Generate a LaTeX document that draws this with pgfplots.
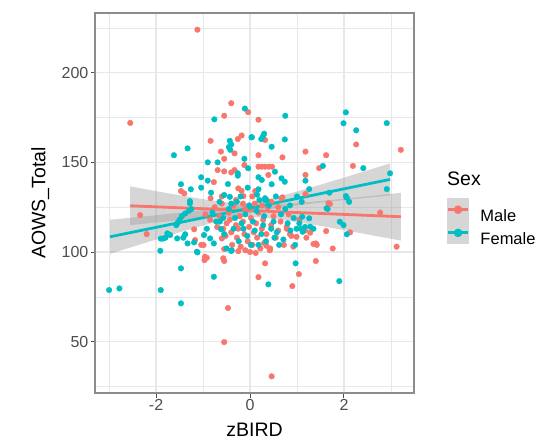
\documentclass[border=0pt]{standalone}
\usepackage{pgfplots}
\usepackage{pgfplotstable}
\pgfplotsset{compat=1.18}
\usepackage{fontspec}
\setmainfont{Liberation Sans}
\definecolor{malec}{RGB}{248,118,109}
\definecolor{femc}{RGB}{0,191,196}
\definecolor{bandc}{RGB}{153,153,153}
\definecolor{keyfill}{RGB}{214,214,214}
\definecolor{gridc}{RGB}{232,232,232}
\definecolor{borderc}{RGB}{140,140,140}
\definecolor{tickc}{RGB}{77,77,77}

\pgfplotstableread{
x y
-1.12 224
-2.55 172
-0.40 183
-0.04 178
-0.55 176
-0.84 162
-0.26 163
-0.18 165
-0.62 156
-0.33 155
-0.55 152
-0.12 148.5
-0.69 145.7
-0.55 145
-0.40 144.4
-0.33 145.7
-0.77 139
-1.47 134
-1.40 132.7
-0.25 135.5
-0.18 134.2
-0.14 131.2
-0.84 130
0.18 173.8
2.26 160
3.21 157
0.32 162.5
0.18 154
0.69 152.8
1.18 156
1.62 154
0.18 147.6
0.25 147.6
0.32 147.6
0.40 147.6
0.47 147.6
0.39 143
1.18 143
1.47 146.8
2.19 148
0.11 134
0.69 130.5
1.18 132.4
-2.34 120.6
-2.20 110
-1.04 104
-1.19 112.7
-0.92 96.8
-0.96 96.5
-0.97 95.5
-0.60 107.6
-0.55 101.7
-0.55 95
0.67 130
1.67 127.2
2.77 122
2.13 111
1.62 111.7
3.12 103
1.76 102
1.40 95
1.35 104.5
1.40 104.8
1.42 104
0.32 93.7
0.18 86
0.90 81
1.04 87.7
-0.47 68.8
-0.55 49.8
0.46 30.7
1.28 110.8
1.70 126.8
-1.17 106.7
-0.95 121
-0.85 118
-0.75 125
-0.70 114
-0.65 120
-0.60 127
-0.57 113
-0.52 109
-0.50 116
-0.45 122
-0.43 118
-0.40 111
-0.38 104
-0.35 126
-0.30 115
-0.28 108
-0.25 113
-0.22 120
-0.20 103
-0.15 117
-0.12 110
-0.10 124
-0.05 106
-0.02 114
0.02 119
0.05 104
0.08 111
0.10 127
0.13 116
0.15 108
0.18 122
0.22 102
0.25 113
0.28 118
0.30 105
0.35 110
0.38 125
0.42 101
0.45 115
0.50 120
0.55 108
0.60 112
0.65 117
0.72 104
0.78 114
0.82 121
0.88 109
0.92 103
0.99 108.5
1.05 118
1.17 112
1.20 108
-0.57 96.5
-0.25 100.5
-0.10 101
0.00 100
0.12 99.5
0.35 103.5
0.43 102
-0.99 103.9
-0.96 97.4
0.78 113
0.85 110
-0.60 131
-0.30 129
0.05 131
0.45 128
0.60 125
-0.15 127
0.25 126
}\maletab

\pgfplotstableread{
x y
-0.11 180
-0.76 174
-0.43 162
-0.40 160
-0.45 158.5
-0.42 157
0.04 164
-1.62 154
-1.33 157.8
-0.90 150
-0.69 150
-0.12 152
-0.04 146.7
-0.26 143.9
-0.26 142.6
-1.04 141.7
-0.90 139.8
-0.47 137.9
-1.47 137.8
-1.26 135
-1.04 135.9
-0.83 133.1
-0.55 131.8
-0.43 130.8
-0.05 135.9
0.75 176
2.04 177.9
1.99 171.8
2.91 171.9
2.26 167.9
0.03 164
0.27 164.3
0.30 166
0.24 163
0.74 162.8
0.46 158.7
0.53 144.8
0.18 141.7
0.25 140.2
0.67 141.1
0.74 139.2
0.46 137.8
1.55 148
2.41 146.8
2.98 143.9
1.18 139.8
1.26 135.1
0.18 135
0.32 130
1.69 133.1
2.04 131.2
2.91 135.1
-1.90 107.5
-1.85 107.5
-1.80 108
-1.91 100.7
-1.76 110.4
-1.70 109.5
-1.55 107.6
-1.47 90.9
-3.00 78.8
-2.78 79.7
-1.90 78.8
-1.47 71.4
-1.42 108
-1.38 109.9
-1.57 115
-1.54 116.3
-1.50 118
-1.45 120
-1.38 121.5
-1.30 123
-1.25 124
-1.33 104.8
-1.19 105.4
-1.12 99.8
-0.98 109.5
-0.77 104.8
-0.77 86.2
-0.62 112.8
-0.40 100.6
0.32 129
1.63 124.4
1.65 124
2.06 130.3
2.11 128
1.91 116.9
1.99 115
2.06 109.9
0.39 82
0.97 93.7
1.90 83.8
1.26 118.8
1.28 114.1
1.11 119.7
1.05 116
1.12 111.3
-1.28 127.2
-1.28 128.4
-1.13 100.2
-0.92 113
-0.85 107.6
-0.80 122
-0.72 117
-0.64 117
-0.57 119
-0.55 110
-0.50 102
-0.45 124
-0.39 101
-0.35 113
-0.32 119
-0.28 128
-0.24 106
-0.18 116
-0.14 113
-0.10 121
-0.06 109
-0.02 126
0.02 104
0.06 117
0.10 112
0.14 123
0.18 104
0.20 129
0.24 110
0.28 115
0.30 120
0.34 106
0.40 126
0.45 113
0.50 117
0.52 108
0.57 111
0.62 104
0.66 121
0.71 107
0.75 124
0.80 116
0.86 112
0.93 119
0.96 104
0.99 113
1.08 113
1.17 114
1.35 113
-0.65 128
-0.20 131
0.15 132
0.35 129
0.55 131
-0.40 127
0.85 126
1.00 131
1.10 128
}\femtab

\begin{document}
\begin{tikzpicture}
\useasboundingbox (0,0) rectangle (536pt,442pt);
\begin{axis}[
  at={(95pt,49pt)}, anchor=south west,
  scale only axis, width=319pt, height=380pt,
  xmin=-3.30, xmax=3.49, ymin=21.4, ymax=233.3,
  xtick={-2,0,2}, ytick={50,100,150,200},
  minor xtick={-3,-1,1,3}, minor ytick={25,75,125,175,225},
  grid=both,
  major grid style={color=gridc, line width=1.2pt},
  minor grid style={color=gridc, line width=0.7pt},
  axis line style={color=borderc, line width=1.1pt},
  tick align=outside, major tick length=4.5pt, minor tick length=0pt,
  tick style={color=tickc, line width=1pt},
  xtick pos=bottom, ytick pos=left,
  /pgf/number format/assume math mode=true,
  ticklabel style={font=\fontsize{16}{18}\selectfont, text=tickc, inner sep=2pt},
  xlabel={zBIRD}, ylabel={AOWS\_Total},
  label style={font=\fontsize{19.5}{22}\selectfont},
  xlabel style={at={(axis description cs:0.5,-0.097)}, anchor=center},
  ylabel style={at={(axis description cs:-0.172,0.5)}, anchor=center},
  legend style={at={(axis description cs:1.1025,0.5124)}, anchor=north west,
    draw=none, fill=none, inner sep=0pt, outer sep=0pt, row sep=0pt,
    nodes={inner sep=0pt, outer sep=0pt, font=\fontsize{16.5}{18}\selectfont, text depth=0pt},
    /tikz/every odd column/.style={column sep=11pt}},
  legend cell align=left,
]
\addplot[only marks, color=malec, mark=*, mark size=2.8pt, forget plot] table[x=x,y=y] {\maletab};
\addplot[only marks, color=femc, mark=*, mark size=2.8pt, forget plot] table[x=x,y=y] {\femtab};
% confidence bands
\addplot[draw=none, fill=bandc, fill opacity=0.4, forget plot] coordinates {
(-2.55,136.61) (-2,133.97) (-1.5,131.65) (-1,129.48) (-0.5,127.66) (0,126.6) (0.5,126.60) (1,127.36) (1.5,128.47) (2,129.73) (2.5,131.07) (3.21,133.02)
(3.21,106.40) (2.5,109.83) (2,112.23) (1.5,114.55) (1,116.72) (0.5,118.54) (0,119.6) (-0.5,119.60) (-1,118.84) (-1.5,117.73) (-2,116.47) (-2.55,114.99)
};
\addplot[draw=none, fill=bandc, fill opacity=0.4, forget plot] coordinates {
(-2.98,118.0) (-2.5,119.24) (-2,120.55) (-1.5,121.93) (-1,123.41) (-0.5,125.13) (0,127.32) (0.5,130.23) (1,133.73) (1.5,137.55) (2,141.50) (2.5,145.54) (2.98,149.44)
(2.98,131.56) (2.5,130.32) (2,128.98) (1.5,127.57) (1,126.01) (0.5,124.15) (0,121.68) (-0.5,118.51) (-1,114.85) (-1.5,110.97) (-2,106.97) (-2.5,102.92) (-2.98,99.0)
};
% fitted lines
\addplot[color=malec, line width=2.8pt, mark=none, legend image code/.code={
  \fill[keyfill] (0pt,-4.2pt) rectangle (20pt,15.8pt);
  \draw[malec, line width=2.8pt] (0pt,5.8pt) -- (20pt,5.8pt);
  \fill[malec] (10pt,5.8pt) circle (2.8pt);
}] coordinates {(-2.55,125.8) (3.21,119.7)};
\addlegendentry{Male}
\addplot[color=femc, line width=2.8pt, mark=none, legend image code/.code={
  \fill[keyfill] (0pt,-4.2pt) rectangle (20pt,15.8pt);
  \draw[femc, line width=2.8pt] (0pt,5.8pt) -- (20pt,5.8pt);
  \fill[femc] (10pt,5.8pt) circle (2.8pt);
}] coordinates {(-2.98,108.5) (2.98,140.5)};
\addlegendentry{Female}
\end{axis}
\node[anchor=west, font=\fontsize{19.5}{22}\selectfont, inner sep=0pt] at (447pt,263.5pt) {Sex};
\end{tikzpicture}
\end{document}
